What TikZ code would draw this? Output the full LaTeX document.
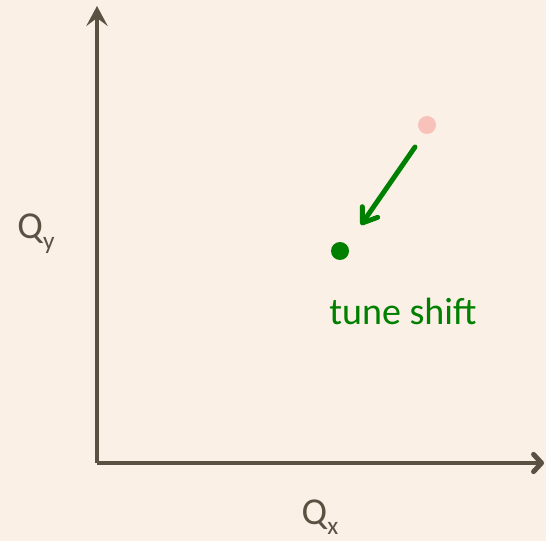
\documentclass[tikz,border=0pt]{standalone}
\usepackage{fontspec}
\setmainfont{Carlito}
\usetikzlibrary{positioning, arrows.meta}
\definecolor{bgcream}{HTML}{FAF0E6}
\definecolor{axisgray}{HTML}{5A5142}
\definecolor{tunegreen}{HTML}{008000}
\definecolor{tunepink}{HTML}{F8C2BA}
\newcommand{\lowsub}[1]{\raisebox{-0.28em}{\fontsize{19}{22}\selectfont #1}}

\begin{document}
\begin{tikzpicture}[
  x=0.75pt, y=-0.75pt,
  font=\fontsize{28.5}{33}\selectfont,
  axis/.style={draw=axisgray, line width=3.7pt},
  tunedot/.style={circle, inner sep=0pt, minimum size=13.5pt},
  label/.style={text=axisgray, inner sep=0pt},
]
\fill[bgcream] (0,0) rectangle (546,541);
\useasboundingbox (0,0) rectangle (546,541);

\coordinate (origin) at (97,463);
\coordinate (ytip) at (97,6);
\coordinate (xtip) at (544,463);
\draw[axis, -{Stealth[length=15pt, width=16pt, inset=6pt]}] (origin) -- (ytip);
\draw[axis, -{Straight Barb[length=6pt, width=13pt, round]}] (origin) -- (xtip);

\node[label] (qy) at (36,234) {Q\lowsub{y}};
\node[label] (qx) at (320,517) {Q\lowsub{x}};

\node[tunedot, fill=tunepink] (before) at (427,125) {};
\node[tunedot, fill=tunegreen] (after) at (340,251) {};
\node[text=tunegreen, inner sep=0pt] (shift) at (403,311) {tune shift};

\coordinate (from) at (415,147);
\coordinate (to) at (361,225);
\draw[tunegreen, line width=3.7pt, line cap=round, -{Straight Barb[length=10pt, width=14pt, round]}] (from) -- (to);
\end{tikzpicture}
\end{document}
